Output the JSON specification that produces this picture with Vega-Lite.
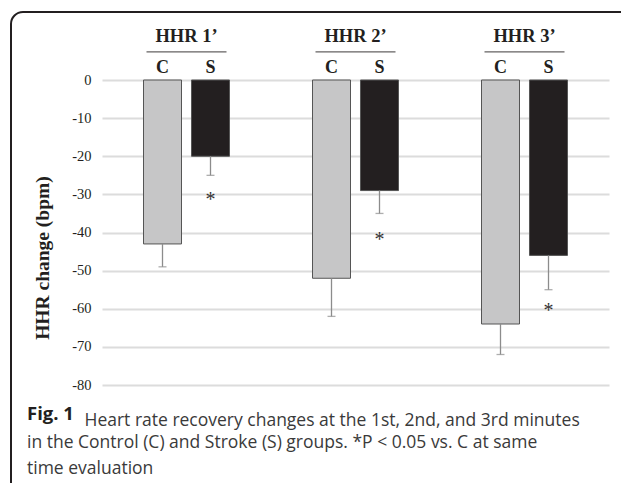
{
  "$schema": "https://vega.github.io/schema/vega-lite/v6.json",
  "width": 630,
  "height": 491,
  "autosize": {"type": "none"},
  "padding": {"left": 11, "top": 12, "right": 0, "bottom": 0},
  "background": "white",
  "title": {
    "text": "Fig. 1",
    "subtitle": ["in the Control (C) and Stroke (S) groups. *P < 0.05 vs. C at same", "time evaluation"],
    "orient": "top",
    "anchor": "start",
    "frame": "group",
    "offset": 0,
    "dx": 16,
    "dy": 480,
    "baseline": "alphabetic",
    "font": "Open Sans",
    "fontSize": 18.5,
    "fontWeight": "bold",
    "color": "#231f20",
    "subtitleFont": "Open Sans",
    "subtitleFontSize": 17.5,
    "subtitleColor": "#3a3a3a",
    "subtitleLineHeight": 26,
    "subtitlePadding": 9
  },
  "config": {
    "view": {"stroke": "#231f20", "strokeWidth": 2, "cornerRadius": 12, "fill": "white"}
  },
  "data": {
    "values": [
      {"group": "HHR 1’", "cond": "C", "value": -43, "err": -49, "sig": null},
      {"group": "HHR 1’", "cond": "S", "value": -20, "err": -25, "sig": -31},
      {"group": "HHR 2’", "cond": "C", "value": -52, "err": -62, "sig": null},
      {"group": "HHR 2’", "cond": "S", "value": -29, "err": -35, "sig": -41.5},
      {"group": "HHR 3’", "cond": "C", "value": -64, "err": -72, "sig": null},
      {"group": "HHR 3’", "cond": "S", "value": -46, "err": -55, "sig": -60}
    ]
  },
  "encoding": {
    "x": {
      "field": "group",
      "type": "nominal",
      "sort": null,
      "scale": {"range": [91, 598], "paddingInner": 0, "paddingOuter": 0},
      "axis": {
        "orient": "top",
        "offset": -35.5,
        "domain": false,
        "ticks": false,
        "labelAngle": 0,
        "labelFont": "Liberation Serif",
        "labelFontSize": 18.5,
        "labelFontWeight": "bold",
        "labelColor": "#231f20",
        "labelPadding": 6,
        "labelBaseline": "alphabetic",
        "title": "Heart rate recovery changes at the 1st, 2nd, and 3rd minutes",
        "titleFont": "Open Sans",
        "titleFontSize": 17.5,
        "titleFontWeight": "normal",
        "titleColor": "#3a3a3a",
        "titleAlign": "left",
        "titleAngle": 0,
        "titleBaseline": "alphabetic",
        "titleX": 73,
        "titleY": 378
      }
    }
  },
  "layer": [
    {
      "mark": {"type": "bar", "stroke": "#555555", "strokeWidth": 1},
      "encoding": {
        "xOffset": {"field": "cond", "type": "nominal", "scale": {"paddingInner": 0.2083, "paddingOuter": 0.8646}},
        "y": {
          "field": "value",
          "type": "quantitative",
          "scale": {"domain": [-110.95, 17.84], "nice": false, "zero": false},
          "axis": {"orient": "left", "offset": -91, "domain": false, "ticks": false, "grid": true, "gridColor": "#dcdcdc", "gridWidth": 2, "labelFont": "Liberation Serif", "labelFontSize": 14.5, "labelColor": "#231f20", "labelPadding": 11, "titleFont": "Liberation Serif", "titleFontSize": 19.5, "titleFontWeight": "bold", "titleColor": "#231f20", "titlePadding": 19, "title": "HHR change (bpm)", "values": [-80, -70, -60, -50, -40, -30, -20, -10, 0], "labelExpr": "toString(datum.value)"}
        },
        "y2": {"datum": 0},
        "fill": {"field": "cond", "type": "nominal", "scale": {"domain": ["C", "S"], "range": ["#c6c6c7", "#231f20"]}, "legend": null}
      }
    },
    {
      "mark": {"type": "rule", "color": "#8c8c8c", "strokeWidth": 1.3},
      "encoding": {
        "xOffset": {"field": "cond", "type": "nominal"},
        "y": {"field": "value", "type": "quantitative", "axis": {"orient": "left", "offset": -91, "domain": false, "ticks": false, "grid": true, "gridColor": "#dcdcdc", "gridWidth": 2, "labelFont": "Liberation Serif", "labelFontSize": 14.5, "labelColor": "#231f20", "labelPadding": 11, "titleFont": "Liberation Serif", "titleFontSize": 19.5, "titleFontWeight": "bold", "titleColor": "#231f20", "titlePadding": 19, "title": "HHR change (bpm)", "values": [-80, -70, -60, -50, -40, -30, -20, -10, 0], "labelExpr": "toString(datum.value)"}},
        "y2": {"field": "err"}
      }
    },
    {
      "mark": {"type": "tick", "color": "#8c8c8c", "size": 8, "thickness": 1.3},
      "encoding": {
        "xOffset": {"field": "cond", "type": "nominal"},
        "y": {"field": "err", "type": "quantitative", "axis": {"orient": "left", "offset": -91, "domain": false, "ticks": false, "grid": true, "gridColor": "#dcdcdc", "gridWidth": 2, "labelFont": "Liberation Serif", "labelFontSize": 14.5, "labelColor": "#231f20", "labelPadding": 11, "titleFont": "Liberation Serif", "titleFontSize": 19.5, "titleFontWeight": "bold", "titleColor": "#231f20", "titlePadding": 19, "title": "HHR change (bpm)", "values": [-80, -70, -60, -50, -40, -30, -20, -10, 0], "labelExpr": "toString(datum.value)"}}
      }
    },
    {
      "transform": [{"filter": "datum.sig != null"}],
      "mark": {"type": "text", "font": "Liberation Serif", "fontSize": 20, "color": "#333333", "baseline": "middle", "dy": 2},
      "encoding": {
        "xOffset": {"field": "cond", "type": "nominal"},
        "y": {"field": "sig", "type": "quantitative", "axis": {"orient": "left", "offset": -91, "domain": false, "ticks": false, "grid": true, "gridColor": "#dcdcdc", "gridWidth": 2, "labelFont": "Liberation Serif", "labelFontSize": 14.5, "labelColor": "#231f20", "labelPadding": 11, "titleFont": "Liberation Serif", "titleFontSize": 19.5, "titleFontWeight": "bold", "titleColor": "#231f20", "titlePadding": 19, "title": "HHR change (bpm)", "values": [-80, -70, -60, -50, -40, -30, -20, -10, 0], "labelExpr": "toString(datum.value)"}},
        "text": {"value": "*"}
      }
    },
    {
      "mark": {"type": "text", "font": "Liberation Serif", "fontSize": 18, "fontWeight": "bold", "color": "#231f20", "baseline": "alphabetic", "dy": -7},
      "encoding": {
        "xOffset": {"field": "cond", "type": "nominal"},
        "y": {"datum": 0, "type": "quantitative", "axis": {"orient": "left", "offset": -91, "domain": false, "ticks": false, "grid": true, "gridColor": "#dcdcdc", "gridWidth": 2, "labelFont": "Liberation Serif", "labelFontSize": 14.5, "labelColor": "#231f20", "labelPadding": 11, "titleFont": "Liberation Serif", "titleFontSize": 19.5, "titleFontWeight": "bold", "titleColor": "#231f20", "titlePadding": 19, "title": "HHR change (bpm)", "values": [-80, -70, -60, -50, -40, -30, -20, -10, 0], "labelExpr": "toString(datum.value)"}},
        "text": {"field": "cond"}
      }
    },
    {
      "transform": [{"filter": "datum.cond == 'C'"}],
      "mark": {"type": "tick", "color": "#231f20", "size": 80, "thickness": 1.3, "yOffset": -28.2},
      "encoding": {
        "y": {"datum": 0, "type": "quantitative", "axis": {"orient": "left", "offset": -91, "domain": false, "ticks": false, "grid": true, "gridColor": "#dcdcdc", "gridWidth": 2, "labelFont": "Liberation Serif", "labelFontSize": 14.5, "labelColor": "#231f20", "labelPadding": 11, "titleFont": "Liberation Serif", "titleFontSize": 19.5, "titleFontWeight": "bold", "titleColor": "#231f20", "titlePadding": 19, "title": "HHR change (bpm)", "values": [-80, -70, -60, -50, -40, -30, -20, -10, 0], "labelExpr": "toString(datum.value)"}}
      }
    }
  ]
}
